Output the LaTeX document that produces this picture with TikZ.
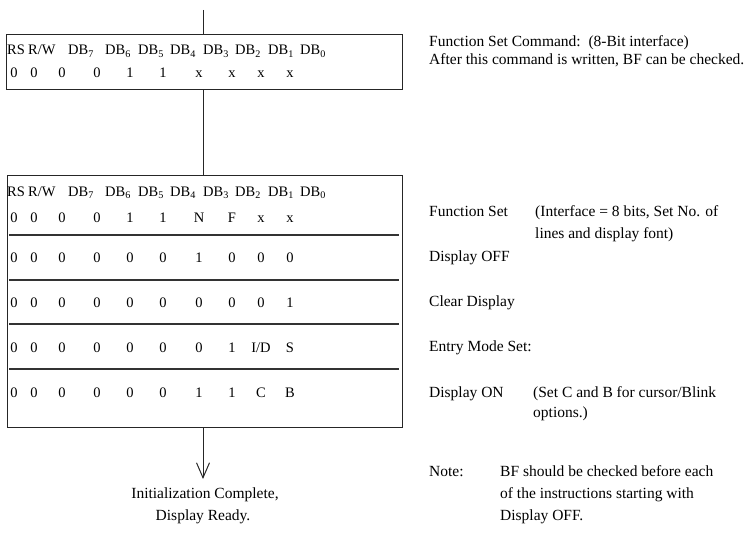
\documentclass[tikz,border=0pt]{standalone}
\usepackage{fontspec}
\setmainfont{Liberation Serif}
\usetikzlibrary{arrows.meta}
\newcommand\IDtxt{I/D}
\newcommand\hdrrow[2]{%
  \node[tab] (#2rs) at (7,#1) {RS};
  \node[tab] (#2rw) at (28,#1) {R/W};
  \node[tab] (#2d7) at (68,#1) {DB\textsubscript{7}};
  \node[tab] (#2d6) at (105,#1) {DB\textsubscript{6}};
  \node[tab] (#2d5) at (138,#1) {DB\textsubscript{5}};
  \node[tab] (#2d4) at (170,#1) {DB\textsubscript{4}};
  \node[tab] (#2d3) at (203,#1) {DB\textsubscript{3}};
  \node[tab] (#2d2) at (235,#1) {DB\textsubscript{2}};
  \node[tab] (#2d1) at (268,#1) {DB\textsubscript{1}};
  \node[tab] (#2d0) at (300,#1) {DB\textsubscript{0}};
}
\begin{document}
\begin{tikzpicture}[x=1pt,y=-1pt,
  frame/.style={draw=black!85, line width=1.3pt, inner sep=0pt, anchor=north west},
  tab/.style={font=\fontsize{14.5}{17}\selectfont, inner sep=0pt, anchor=base west},
  val/.style={font=\fontsize{14.5}{17}\selectfont, inner sep=0pt, anchor=base},
  desc/.style={font=\fontsize{15.5}{18}\selectfont, inner sep=0pt, anchor=base west},
  sepline/.style={draw=black!80, line width=1.3pt},
  conn/.style={draw=black!85, line width=1pt}
]
\useasboundingbox (0,0) rectangle (751,551);

% boxes
\node[frame, minimum width=396pt, minimum height=55pt] (box1) at (6,34) {};
\node[frame, minimum width=395pt, minimum height=252pt] (box2) at (7,175) {};

% connectors
\coordinate (top) at (203,10);
\coordinate (tip) at (203,479);
\draw[conn] (top) -- (top |- box1.north);
\draw[conn] (top |- box1.south) -- (top |- box2.north);
\draw[conn, -{Straight Barb[length=15pt,width=13pt,line width=1pt]}] (top |- box2.south) -- (tip);

% box 1 contents
\hdrrow{55}{a}
\foreach \v/\x [count=\i] in {0/14,0/34,0/62,0/97,1/130,1/163,x/199,x/232,x/261,x/290}
  \node[val] (av\i) at (\x,77) {\v};

% box 2 contents
\hdrrow{196}{b}
\foreach \v/\x [count=\i] in {0/14,0/34,0/62,0/97,1/130,1/163,N/199,F/232,x/261,x/290}
  \node[val] (bv\i) at (\x,222) {\v};
\foreach \v/\x [count=\i] in {0/14,0/34,0/62,0/97,0/130,0/163,1/199,0/232,0/261,0/290}
  \node[val] (cv\i) at (\x,262) {\v};
\foreach \v/\x [count=\i] in {0/14,0/34,0/62,0/97,0/130,0/163,0/199,0/232,0/261,1/290}
  \node[val] (dv\i) at (\x,307) {\v};
\foreach \v/\x [count=\i] in {0/14,0/34,0/62,0/97,0/130,0/163,0/199,1/232,\IDtxt/261,S/290}
  \node[val] (ev\i) at (\x,352) {\v};
\foreach \v/\x [count=\i] in {0/14,0/34,0/62,0/97,0/130,0/163,1/199,1/232,C/261,B/290}
  \node[val] (fv\i) at (\x,397) {\v};

% separators
\draw[sepline] (9,235) -- (399,235);
\draw[sepline] (9,280) -- (399,280);
\draw[sepline] (9,324) -- (399,324);
\draw[sepline] (9,369) -- (399,369);

% right-hand descriptions
\node[desc] (t1) at (429,47) {Function Set Command:\ \ (8-Bit interface)};
\node[desc] (t2) at (429,64) {After this command is written, BF can be checked.};
\node[desc] (d1) at (429,216) {Function Set};
\node[desc] (d1a) at (535,216) {(Interface = 8 bits, Set No. of};
\node[desc] (d1b) at (535,238) {lines and display font)};
\node[desc] (d2) at (429,261) {Display OFF};
\node[desc] (d3) at (429,306) {Clear Display};
\node[desc] (d4) at (429,351) {Entry Mode Set:};
\node[desc] (d5) at (429,397) {Display ON};
\node[desc] (d5a) at (533,397) {(Set C and B for cursor/Blink};
\node[desc] (d5b) at (533,417) {options.)};
\node[desc] (n0) at (429,476) {Note:};
\node[desc] (n1) at (500,476) {BF should be checked before each};
\node[desc] (n2) at (500,498) {of the instructions starting with};
\node[desc] (n3) at (500,520) {Display OFF.};

% bottom text
\node[desc, anchor=base] (fin1) at (205,498) {Initialization Complete,};
\node[desc, anchor=base] (fin2) at (203,520) {Display Ready.};
\end{tikzpicture}
\end{document}
